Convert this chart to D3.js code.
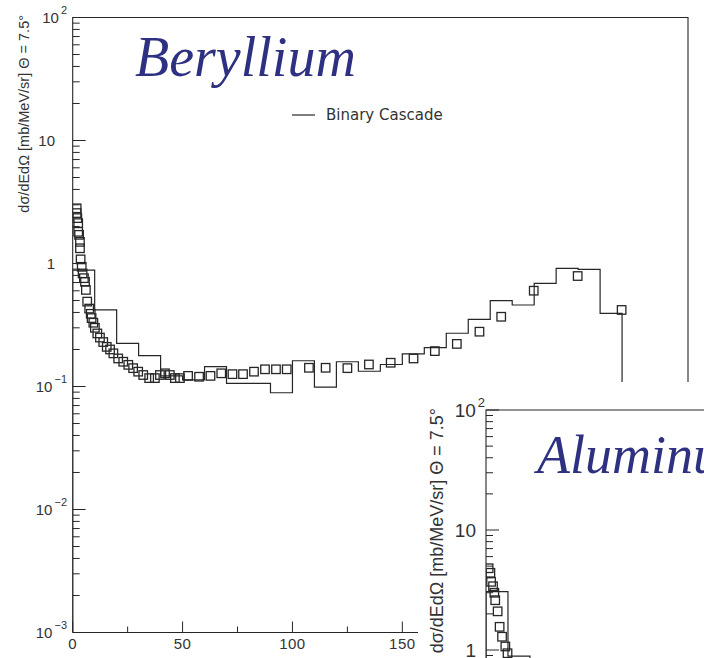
<!DOCTYPE html>
<html><head><meta charset="utf-8">
<script src="https://cdn.jsdelivr.net/npm/d3@7/dist/d3.min.js"></script>
<style>body{margin:0;background:#fff}svg{display:block}</style>
</head><body>
<script>
// ---- Beryllium: measured data (open squares)
const beEnergy = [1.8,1.8,2.1,2.5,2.5,2.9,3.3,3.3,3.6,4.1,4.5,5.1,5.6,6.0,6.6,7.5,8.2,8.6,9.4,10.1,11.2,12.4,13.9,15.5,17.0,18.5,20.7,23.0,25.3,27.5,29.8,32.1,34.8,37.4,39.7,42.0,44.2,46.5,48.8,52.5,57.5,62.7,67.6,72.7,77.5,82.5,87.5,92.5,97.4,107.5,115.1,125.0,134.8,144.7,155.1,164.8,174.8,185.1,195.0,209.8,229.8,249.8];
const beValue  = [2.81,2.57,2.34,2.13,1.81,1.71,1.50,1.33,1.08,0.94,0.83,0.76,0.71,0.61,0.49,0.43,0.39,0.36,0.33,0.30,0.27,0.25,0.23,0.21,0.20,0.186,0.169,0.159,0.150,0.141,0.132,0.124,0.117,0.117,0.124,0.128,0.124,0.117,0.117,0.122,0.120,0.122,0.128,0.126,0.126,0.132,0.138,0.138,0.138,0.142,0.142,0.141,0.151,0.156,0.169,0.194,0.222,0.279,0.369,0.601,0.791,0.419];
// ---- Beryllium: Binary Cascade histogram (10 MeV bins)
const beBinLow   = [0,10,20,30,40,50,60,70,80,90,100,110,120,130,140,150,160,170,180,190,200,210,220,230,240];
const beBinValue = [0.885,0.419,0.224,0.178,0.122,0.113,0.145,0.106,0.106,0.089,0.162,0.099,0.159,0.133,0.151,0.184,0.207,0.271,0.352,0.499,0.46,0.69,0.914,0.897,0.393];
const binWidth = 10;
// ---- Aluminum (inset, partly visible)
const alEnergy = [1.2,2.0,2.3,3.2,3.8,4.2,5.3,6.2,7.3,8.8,9.8];
const alValue  = [4.8,4.4,3.7,3.4,3.0,2.6,2.1,1.56,1.29,1.07,0.94];
const alBinLow   = [0,10];
const alBinValue = [3.06,0.89];
// ---- axes
const xMajorTicks = [0,50,100,150,200,250];
const xMinorTicks = [25,75,125,175,225,275];
const yDomain = [1e-3,1e2];
const yTitle = "dσ/dEdΩ [mb/MeV/sr] Θ = 7.5°";
const legendLabel = "Binary Cascade";

const W=704,H=658;
const svg=d3.select("body").append("svg").attr("width",W).attr("height",H)
  .style("font-family","'Liberation Sans',Arial,sans-serif");
const ink="#262626";

function histPoints(lows,vals,floor){
  const p=[[lows[0],floor]];
  lows.forEach((lo,i)=>{p.push([lo,vals[i]]);p.push([lo+binWidth,vals[i]]);});
  p.push([lows[lows.length-1]+binWidth,floor]);
  return p;
}
const isDecade=d=>Math.abs(Math.log10(d)-Math.round(Math.log10(d)))<1e-9;
function supLabel(sel,v,sfs,rise){
  const k=Math.round(Math.log10(v));
  if(k===0){sel.text("1");return false;}
  if(k===1){sel.text("10");return false;}
  sel.append("tspan").text("10");
  sel.append("tspan").attr("font-size",sfs).attr("dy",-rise).attr("dx",2).text(k<0?"\u2212"+(-k):String(k));
  return true;
}

function drawPanel(g,o){
  const x=d3.scaleLinear().domain([0,280]).range([o.left,o.left+615.3]);
  const y=d3.scaleLog().domain(yDomain).range([o.top+o.decade*5,o.top]);
  const clipId="clip"+o.id;
  g.append("clipPath").attr("id",clipId).append("rect")
    .attr("x",o.left).attr("y",o.top).attr("width",615.3).attr("height",o.decade*5);
  const plot=g.append("g").attr("clip-path",`url(#${clipId})`);
  // histogram
  plot.append("path").datum(histPoints(o.binLow,o.binValue,yDomain[0]))
    .attr("d",d3.line().x(d=>x(d[0])).y(d=>y(d[1])))
    .attr("fill","none").attr("stroke",ink).attr("stroke-width",1.2);
  // squares
  const s=o.sq;
  plot.selectAll("rect.pt").data(o.energy.map((e,i)=>[e,o.value[i]])).join("rect")
    .attr("class","pt").attr("x",d=>x(d[0])-s/2).attr("y",d=>y(d[1])-s/2)
    .attr("width",s).attr("height",s).attr("fill","none").attr("stroke",ink).attr("stroke-width",1.3);
  // frame
  const x0=x(0),x1=x(280),y0=y(yDomain[0]),y1=y(yDomain[1]);
  g.append("path").attr("d",`M${x0},${y0}V${y1}H${x1}V${y0}H${x0}`)
    .attr("fill","none").attr("stroke",ink).attr("stroke-width",1.1);
  // y ticks
  const yt=y.ticks();
  g.selectAll("line.yt").data(yt).join("line")
    .attr("x1",x0).attr("x2",d=>x0+(isDecade(d)?o.maj:o.min))
    .attr("y1",d=>y(d)).attr("y2",d=>y(d)).attr("stroke",ink).attr("stroke-width",1);
  yt.filter(isDecade).filter(d=>y(d)<H).forEach(d=>{
    const t=g.append("text").attr("y",y(d)).attr("dy","0.36em").attr("text-anchor","end")
      .attr("font-size",o.fs).attr("fill","#333");
    const hasSup=supLabel(t,d,o.sfs,o.rise);
    t.attr("x",hasSup?o.supRight:o.plainRight);
  });
  // x ticks
  g.selectAll("line.xM").data(xMajorTicks).join("line")
    .attr("x1",d=>x(d)).attr("x2",d=>x(d)).attr("y1",y0).attr("y2",y0-o.xmaj).attr("stroke",ink);
  g.selectAll("line.xm").data(xMinorTicks).join("line")
    .attr("x1",d=>x(d)).attr("x2",d=>x(d)).attr("y1",y0).attr("y2",y0-o.xmin).attr("stroke",ink);
  if(o.xLabels){
    g.selectAll("text.xl").data(xMajorTicks.filter(d=>x(d)<o.xLabelMax)).join("text")
      .attr("x",d=>x(d)).attr("y",y0+o.xlab).attr("text-anchor","middle")
      .attr("font-size",o.xfs).attr("letter-spacing",0.5).attr("fill","#333").text(d=>d);
  }
  // y title
  g.append("text").attr("transform",`translate(${o.titleX},${o.titleTop}) rotate(-90)`)
    .attr("text-anchor","end").attr("font-size",o.tfs).attr("fill","#333").text(yTitle);
  // element name
  g.append("text").attr("x",o.nameX).attr("y",o.nameY)
    .attr("font-family","'Liberation Serif','DejaVu Serif',serif").attr("font-style","italic")
    .attr("font-size",o.nfs).attr("fill","#2e3181").text(o.name);
  return {x,y};
}

// main panel
const main=svg.append("g");
drawPanel(main,{id:"be",left:72.7,top:17.5,decade:123,binLow:beBinLow,binValue:beBinValue,
  energy:beEnergy,value:beValue,sq:8.5,maj:13,min:7,xmaj:11,xmin:6,fs:15,sfs:11,rise:9,
  supRight:67,plainRight:55,xLabels:true,xLabelMax:418,xlab:16,xfs:15,titleX:29,titleTop:15,tfs:14.5,
  name:"Beryllium",nameX:135,nameY:76,nfs:56});
// legend
main.append("line").attr("x1",292).attr("x2",315).attr("y1",115).attr("y2",115).attr("stroke",ink).attr("stroke-width",1.2);
main.append("text").attr("x",326).attr("y",120).attr("font-family","'DejaVu Sans',sans-serif")
  .attr("font-size",15).attr("fill","#333").text(legendLabel);

// inset panel (Aluminum), overlapping lower right
const inset=svg.append("g");
inset.append("rect").attr("x",418).attr("y",382).attr("width",W-418).attr("height",H-382).attr("fill","#fff");
drawPanel(inset,{id:"al",left:486,top:410,decade:120,binLow:alBinLow,binValue:alBinValue,
  energy:alEnergy,value:alValue,sq:8.5,maj:13,min:7,xmaj:11,xmin:6,fs:19,sfs:13,rise:10,
  supRight:485,plainRight:476,xLabels:false,xlab:20,xfs:19,titleX:443,titleTop:408,tfs:18,
  name:"Aluminum",nameX:537,nameY:473,nfs:54});
</script>
</body></html>
